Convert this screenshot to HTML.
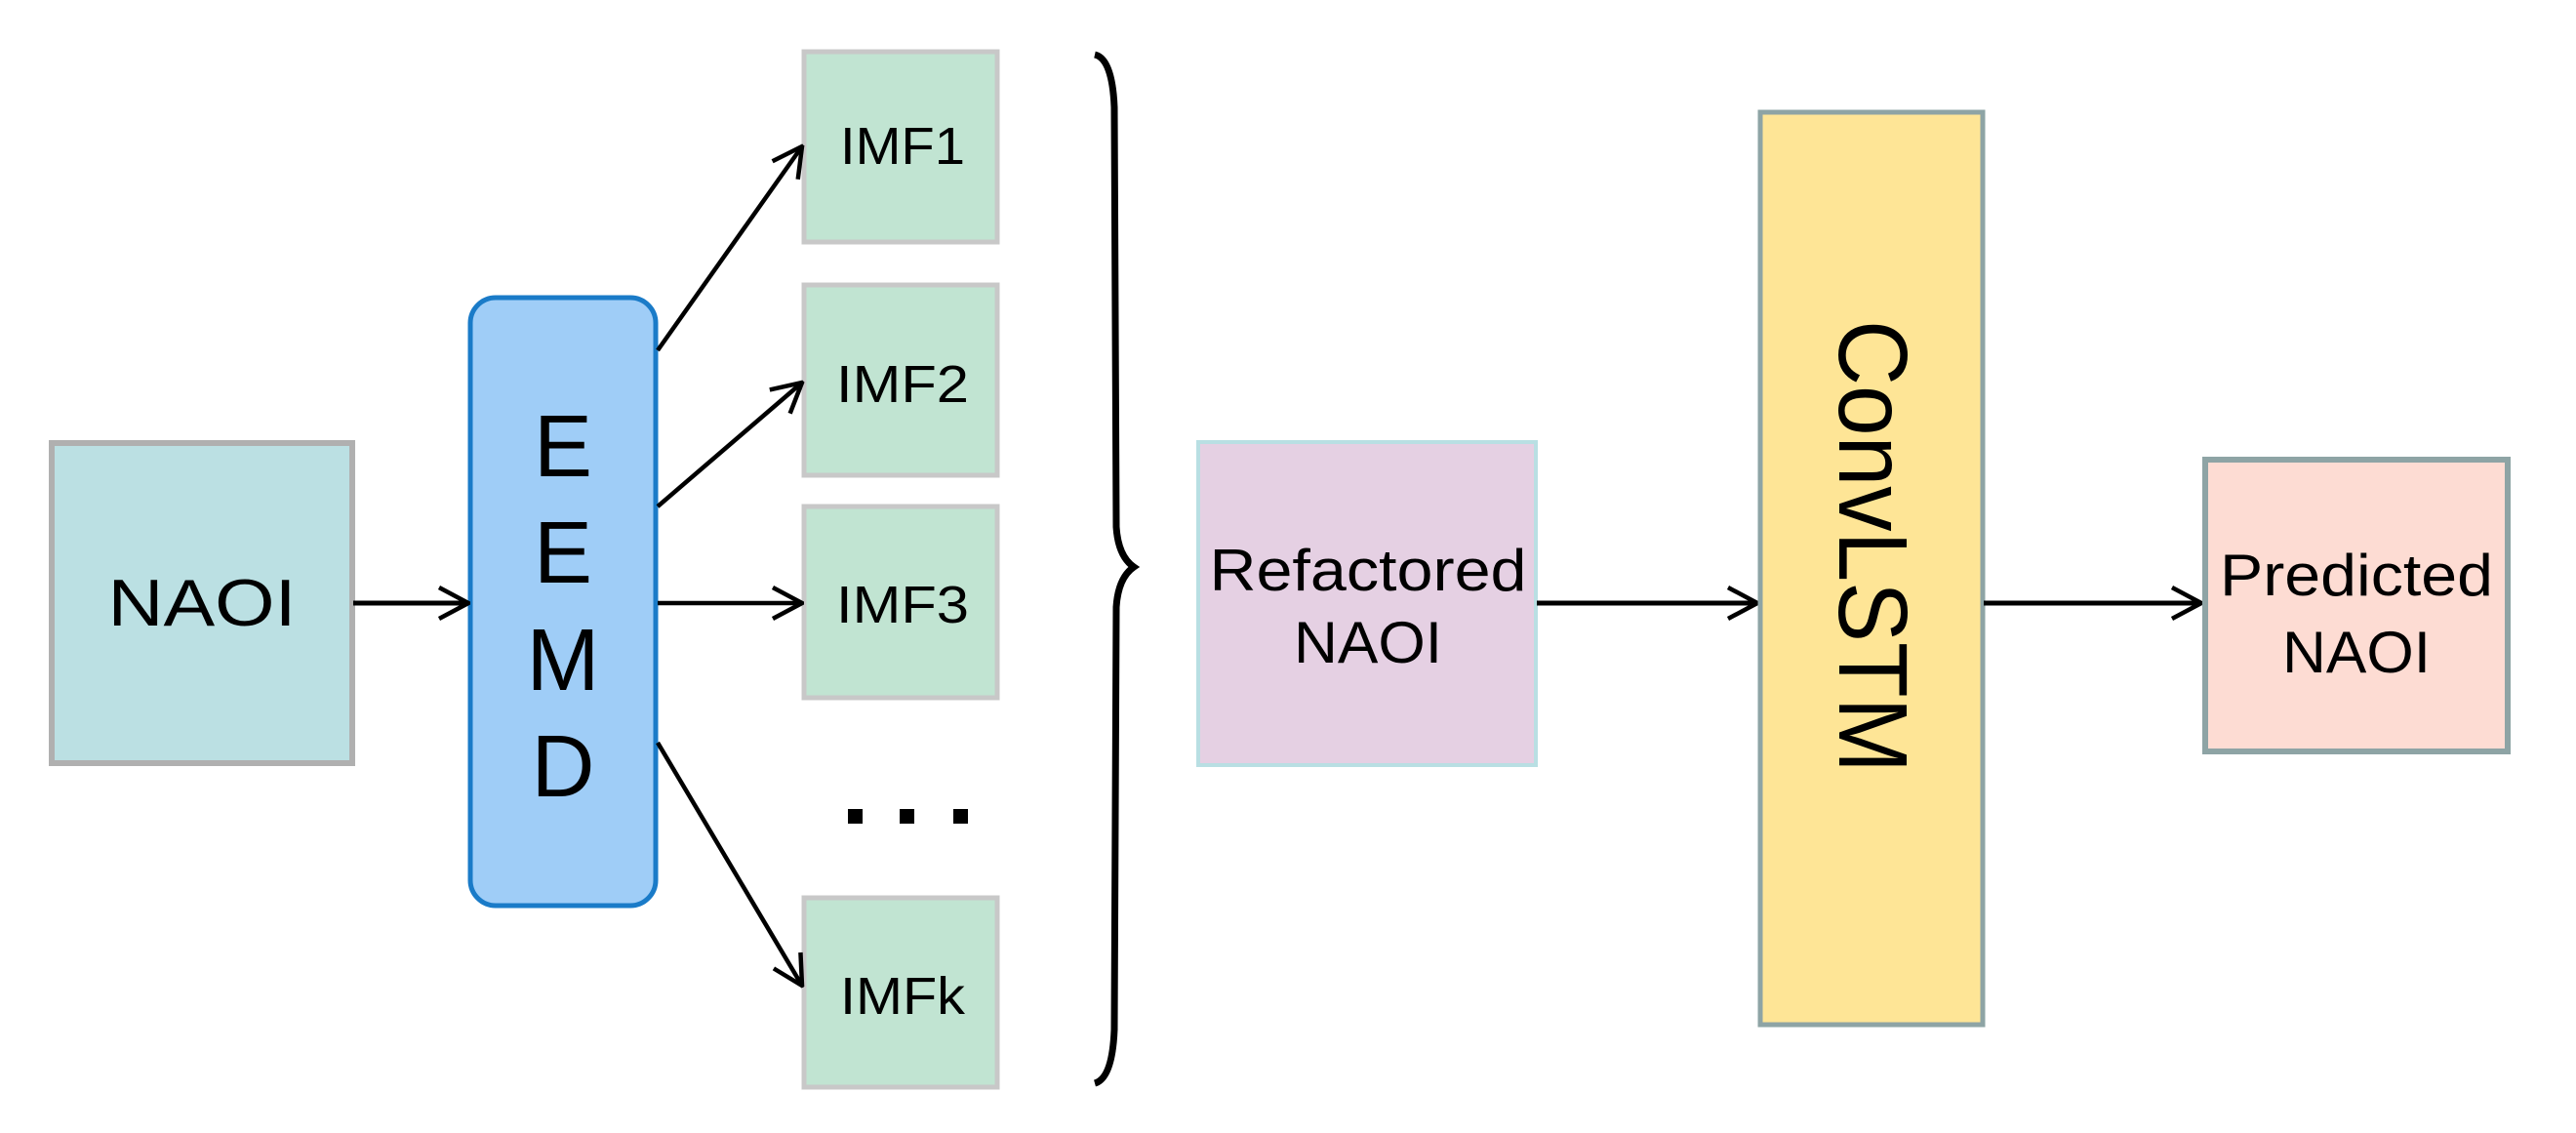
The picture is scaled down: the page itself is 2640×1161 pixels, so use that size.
<!DOCTYPE html>
<html><head><meta charset="utf-8"><style>
html,body{margin:0;padding:0;background:#fff;overflow:hidden;}
svg{display:block;}
text{font-family:"Liberation Sans",Arial,sans-serif;fill:#000;}
</style></head><body>
<svg width="2640" height="1161" viewBox="0 0 2640 1161" xmlns="http://www.w3.org/2000/svg">
<defs>
<marker id="ah" markerWidth="40" markerHeight="40" refX="38" refY="20" orient="auto" markerUnits="userSpaceOnUse">
<path d="M8,4 L38,20 L8,36" fill="none" stroke="#000" stroke-width="4.5"/>
</marker>
</defs>
<rect x="53" y="454" width="308" height="328" fill="#bbe0e3" stroke="#b0b0b0" stroke-width="6"/>
<text x="207" y="641" font-size="68" text-anchor="middle" textLength="193" lengthAdjust="spacingAndGlyphs">NAOI</text>
<rect x="482" y="305" width="190" height="623" rx="26" fill="#9fcdf7" stroke="#1a7bc8" stroke-width="5"/>
<g font-size="90" text-anchor="middle">
<text x="577" y="488">E</text>
<text x="577" y="597">E</text>
<text x="577" y="707">M</text>
<text x="577" y="816">D</text>
</g>
<line x1="362" y1="618" x2="480" y2="618" stroke="#000" stroke-width="5" marker-end="url(#ah)"/>
<g fill="#c1e4d2" stroke="#c8c8c8" stroke-width="5">
<rect x="824" y="53" width="198" height="195"/>
<rect x="824" y="292" width="198" height="195"/>
<rect x="824" y="519" width="198" height="196"/>
<rect x="824" y="920" width="198" height="194"/>
</g>
<g font-size="54" text-anchor="middle">
<text x="925" y="168" textLength="128" lengthAdjust="spacingAndGlyphs">IMF1</text>
<text x="925" y="412" textLength="136" lengthAdjust="spacingAndGlyphs">IMF2</text>
<text x="925" y="638" textLength="136" lengthAdjust="spacingAndGlyphs">IMF3</text>
<text x="925" y="1039" textLength="128" lengthAdjust="spacingAndGlyphs">IMFk</text>
</g>
<g fill="#000">
<rect x="869" y="829" width="15" height="15"/>
<rect x="922" y="829" width="15" height="15"/>
<rect x="977" y="829" width="15" height="15"/>
</g>
<g stroke="#000" stroke-width="4.5" fill="none">
<line x1="674" y1="359" x2="822" y2="150" marker-end="url(#ah)"/>
<line x1="674" y1="519" x2="822" y2="392" marker-end="url(#ah)"/>
<line x1="674" y1="618" x2="822" y2="618" marker-end="url(#ah)"/>
<line x1="674" y1="761" x2="822" y2="1010" marker-end="url(#ah)"/>
</g>
<path d="M1122,56 Q1140,60 1142,110 L1144,540 Q1146,570 1162,581 Q1146,592 1144,622 L1142,1055 Q1140,1105 1122,1110" fill="none" stroke="#000" stroke-width="7"/>
<rect x="1228" y="453" width="346" height="331" fill="#e5d0e3" stroke="#b9dfe3" stroke-width="4"/>
<text x="1402" y="605" font-size="60" text-anchor="middle" textLength="325" lengthAdjust="spacingAndGlyphs">Refactored</text>
<text x="1402" y="679" font-size="60" text-anchor="middle" textLength="152" lengthAdjust="spacingAndGlyphs">NAOI</text>
<line x1="1575" y1="618" x2="1801" y2="618" stroke="#000" stroke-width="5" marker-end="url(#ah)"/>
<rect x="1804" y="115" width="228" height="935" fill="#fee596" stroke="#8ea4a5" stroke-width="5"/>
<text transform="translate(1920,560) rotate(90)" x="0" y="35" font-size="100" text-anchor="middle" textLength="464" lengthAdjust="spacingAndGlyphs">ConvLSTM</text>
<line x1="2033" y1="618" x2="2256" y2="618" stroke="#000" stroke-width="5" marker-end="url(#ah)"/>
<rect x="2260" y="471" width="310" height="299" fill="#fddcd3" stroke="#8ea4a5" stroke-width="6"/>
<text x="2415" y="610" font-size="60" text-anchor="middle" textLength="280" lengthAdjust="spacingAndGlyphs">Predicted</text>
<text x="2415" y="689" font-size="60" text-anchor="middle" textLength="152" lengthAdjust="spacingAndGlyphs">NAOI</text>
</svg>
</body></html>
